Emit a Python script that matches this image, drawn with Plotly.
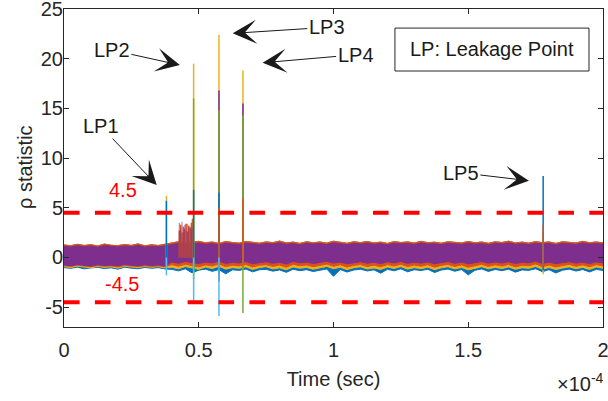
import numpy as np
import plotly.graph_objects as go

# ---------------- data (time in units of 1e-4 s) ----------------
time_e4 = np.linspace(0, 2, 81)

purple_hi = [1.12, 1.05, 1.18, 1.08, 1.15, 1.02, 1.20, 1.10, 1.06, 1.16, 1.09, 1.22, 1.04, 1.13, 1.08, 1.17,
             1.30, 1.42, 1.28, 1.38, 1.46, 1.33, 1.40, 1.27, 1.44, 1.36,
             1.31, 1.45, 1.38, 1.29, 1.41, 1.35, 1.48, 1.32, 1.39, 1.26,
             1.43, 1.34, 1.40, 1.30, 1.47, 1.37, 1.28, 1.42, 1.35, 1.45,
             1.32, 1.39, 1.27, 1.44, 1.36, 1.41, 1.30, 1.46, 1.34, 1.38,
             1.29, 1.43, 1.37, 1.31, 1.45, 1.33, 1.40, 1.28, 1.42, 1.36,
             1.47, 1.32, 1.39, 1.30, 1.44, 1.35, 1.41, 1.27, 1.43, 1.37,
             1.31, 1.46, 1.34, 1.40, 1.33]
purple_lo = [-0.75, -0.84, -0.70, -0.80, -0.88, -0.73, -0.82, -0.77, -0.86, -0.71, -0.79, -0.85, -0.74, -0.81, -0.76, -0.87,
             -0.45, -0.58, -0.40, -0.52, -0.62, -0.47, -0.55, -0.38, -0.60, -0.49,
             -0.56, -0.42, -0.63, -0.50, -0.44, -0.59, -0.48, -0.66, -0.41, -0.54,
             -0.47, -0.61, -0.52, -0.39, -0.57, -0.46, -0.64, -0.51, -0.43, -0.58,
             -0.49, -0.62, -0.44, -0.55, -0.40, -0.60, -0.48, -0.57, -0.45, -0.63,
             -0.50, -0.42, -0.59, -0.47, -0.65, -0.53, -0.41, -0.58, -0.46, -0.56,
             -0.44, -0.61, -0.49, -0.54, -0.39, -0.60, -0.47, -0.63, -0.52, -0.43,
             -0.57, -0.48, -0.62, -0.45, -0.55]
fringe_hi = [1.25, 1.18, 1.32, 1.20, 1.28, 1.15, 1.34, 1.22, 1.19, 1.30, 1.21, 1.36, 1.17, 1.27, 1.20, 1.31,
             1.45, 1.58, 1.42, 1.52, 1.62, 1.47, 1.55, 1.40, 1.60, 1.50,
             1.44, 1.61, 1.53, 1.43, 1.56, 1.49, 1.64, 1.46, 1.54, 1.41,
             1.57, 1.48, 1.55, 1.44, 1.63, 1.51, 1.42, 1.58, 1.49, 1.60,
             1.46, 1.54, 1.41, 1.59, 1.50, 1.56, 1.45, 1.62, 1.48, 1.53,
             1.43, 1.58, 1.52, 1.45, 1.61, 1.47, 1.55, 1.42, 1.57, 1.50,
             1.63, 1.46, 1.54, 1.44, 1.59, 1.49, 1.56, 1.41, 1.58, 1.51,
             1.45, 1.62, 1.48, 1.55, 1.47]
orange_lo = [-0.83, -0.90, -0.80, -0.88, -0.93, -0.82, -0.89, -0.85, -0.95, -0.81, -0.87, -0.92, -0.84, -0.90, -0.86, -0.94,
             -0.72, -0.88, -0.68, -0.82, -0.95, -0.75, -0.86, -0.66, -0.92, -0.78,
             -0.85, -0.70, -0.96, -0.79, -0.73, -0.90, -0.77, -0.99, -0.69, -0.84,
             -0.76, -0.93, -0.81, -0.67, -0.89, -0.74, -0.97, -0.80, -0.71, -0.91,
             -0.78, -0.94, -0.72, -0.86, -0.68, -0.92, -0.77, -0.88, -0.73, -0.98,
             -0.80, -0.70, -0.91, -0.75, -0.99, -0.83, -0.69, -0.90, -0.74, -0.87,
             -0.71, -0.95, -0.79, -0.84, -0.66, -0.93, -0.76, -0.96, -0.82, -0.70,
             -0.89, -0.75, -0.94, -0.72, -0.85]
yellow_lo = [-0.92, -1.02, -0.88, -0.98, -1.05, -0.90, -1.00, -0.94, -1.08, -0.89, -0.97, -1.03, -0.91, -0.99, -0.93, -1.06,
             -1.00, -1.15, -0.92, -1.08, -1.20, -0.97, -1.12, -0.90, -1.18, -1.03,
             -1.10, -0.95, -1.22, -1.02, -0.93, -1.16, -1.05, -1.25, -0.96, -1.09,
             -1.01, -1.19, -1.07, -0.91, -1.14, -0.99, -1.23, -1.04, -0.94, -1.17,
             -1.06, -1.21, -0.97, -1.11, -0.92, -1.18, -1.03, -1.13, -0.98, -1.24,
             -1.05, -0.94, -1.16, -1.01, -1.26, -1.08, -0.93, -1.15, -1.00, -1.12,
             -0.96, -1.20, -1.04, -1.10, -0.91, -1.19, -1.02, -1.22, -1.07, -0.95,
             -1.14, -1.00, -1.21, -0.97, -1.09]
blue_lo = [-1.02, -1.10, -0.98, -1.15, -1.05, -1.00, -1.12, -1.04, -1.18, -0.99, -1.08, -1.14, -1.01, -1.09, -1.03, -1.16,
           -1.20, -1.35, -1.15, -1.55, -1.28, -1.18, -1.40, -1.22, -1.65, -1.25,
           -1.30, -1.17, -1.45, -1.24, -1.20, -1.38, -1.26, -1.50, -1.19, -1.33,
           -1.23, -1.42, -1.28, -1.16, -1.90, -1.21, -1.47, -1.27, -1.18, -1.36,
           -1.25, -1.58, -1.20, -1.34, -1.15, -1.44, -1.24, -1.31, -1.19, -1.52,
           -1.27, -1.17, -1.39, -1.22, -1.75, -1.29, -1.16, -1.41, -1.21, -1.33,
           -1.19, -1.48, -1.26, -1.30, -1.14, -1.43, -1.23, -1.56, -1.28, -1.18,
           -1.37, -1.22, -1.46, -1.20, -1.31]

# leakage spikes: times (1e-4 s), peak values, trough values
yellow_spk_t = [0.380, 0.481, 0.575, 0.664, 1.778]
yellow_spk_hi = [6.2, 19.5, 22.4, 18.8, 2.6]
yellow_spk_lo = [-0.9, -1.0, -1.2, -1.1, -1.7]

purple_spk_t = [0.575, 0.664]
purple_spk_hi = [16.8, 15.5]
purple_spk_lo = [-2.4, -1.0]

green_spk_t = [0.481, 0.575, 0.664]
green_spk_hi = [16.0, 14.8, 14.3]
green_spk_lo = [-2.2, -1.0, -5.6]

blue_spk_t = [0.380, 0.481, 0.575, 1.778]
blue_spk_hi = [5.7, 6.8, 6.5, 8.2]
blue_spk_lo = [-1.2, -1.3, -1.5, -1.3]

orange_spk_t = [0.575, 0.664, 1.778]
orange_spk_hi = [5.0, 5.9, 3.3]
orange_spk_lo = [-0.8, -0.8, -0.9]

lblue_spk_t = [0.380, 0.481, 0.575]
lblue_spk_hi = [0.0, 0.0, 0.0]
lblue_spk_lo = [-1.8, -4.4, -5.9]

cluster_t = [0.428, 0.433, 0.438, 0.443, 0.448, 0.453, 0.458, 0.463, 0.468, 0.473, 0.477]
cluster_red = [2.7, 3.3, 2.5, 3.1, 2.9, 3.4, 2.6, 3.2, 3.0, 3.5, 3.9]
cluster_purple = [3.5, 2.8, 3.6, 2.6, 3.3, 2.7, 3.4, 2.9, 3.1, 2.8, 3.0]

threshold = 4.5

labels = ["LP1", "LP2", "LP3", "LP4", "LP5"]
x_ticks = [0, 0.5, 1, 1.5, 2]
x_ticktext = ["0", "0.5", "1", "1.5", "2"]
y_ticks = [-5, 0, 5, 10, 15, 20, 25]
y_ticktext = ["-5", "0", "5", "10", "15", "20", "25"]

# ---------------- styles ----------------
C_BLUE = "#0072BD"
C_ORANGE = "#D95319"
C_YELLOW = "#EDB120"
C_PURPLE = "#7E2F8E"
C_GREEN = "#77AC30"
C_LBLUE = "#4DBEEE"
FONT = "Liberation Sans, Arial, Helvetica, sans-serif"
TXT = "#262626"

fig = go.Figure()
t = list(time_e4)


def band(lo, hi, color):
    fig.add_trace(go.Scatter(
        x=t + t[::-1], y=list(hi) + list(lo)[::-1], mode="lines",
        fill="toself", fillcolor=color, line=dict(color=color, width=1),
        hoverinfo="skip", showlegend=False))


def spikes(ts, lo, hi, color, width=1.5, opacity=1.0):
    xs, ys = [], []
    for a, b, c in zip(ts, lo, hi):
        xs += [a, a, None]
        ys += [b, c, None]
    fig.add_trace(go.Scatter(x=xs, y=ys, mode="lines",
                             line=dict(color=color, width=width),
                             opacity=opacity, hoverinfo="skip", showlegend=False))


band(blue_lo, fringe_hi, C_BLUE)
band(yellow_lo, fringe_hi, C_YELLOW)
band(orange_lo, fringe_hi, C_ORANGE)
band(purple_lo, purple_hi, C_PURPLE)

spikes(cluster_t, [0] * len(cluster_t), cluster_red, C_ORANGE, width=1.6)
spikes(cluster_t, [0] * len(cluster_t), cluster_purple, C_PURPLE, width=1.2, opacity=0.55)

spikes(yellow_spk_t, yellow_spk_lo, yellow_spk_hi, C_YELLOW)
spikes(purple_spk_t, purple_spk_lo, purple_spk_hi, C_PURPLE)
spikes(green_spk_t, green_spk_lo, green_spk_hi, C_GREEN)
spikes(blue_spk_t, blue_spk_lo, blue_spk_hi, C_BLUE)
spikes(orange_spk_t, orange_spk_lo, orange_spk_hi, C_ORANGE)
spikes(lblue_spk_t, lblue_spk_lo, lblue_spk_hi, C_LBLUE)

# threshold lines
for yv in (threshold, -threshold):
    fig.add_shape(type="line", xref="paper", yref="y", x0=0, x1=1, y0=yv, y1=yv,
                  line=dict(color="#FF0000", width=4, dash="15.6px,15.3px"), layer="above")

# threshold labels
fig.add_annotation(x=0.219, y=6.78, text="4.5", showarrow=False, xanchor="center", yanchor="middle",
                   font=dict(family=FONT, size=20, color="#FF0000"))
fig.add_annotation(x=0.215, y=-2.68, text="-4.5", showarrow=False, xanchor="center", yanchor="middle",
                   font=dict(family=FONT, size=20, color="#FF0000"))

# leakage-point arrows: (tip x, tip y, text offset ax, ay)
arrow_pos = [(0.344, 7.28, -56, -59), (0.430, 19.36, -68, -15), (0.626, 22.55, 94, -6),
             (0.737, 19.59, 93, -8), (1.725, 7.72, -68, -8)]
for lab, (ax_, ay_, dx, dy) in zip(labels, arrow_pos):
    fig.add_annotation(x=ax_, y=ay_, ax=dx, ay=dy, text=lab, showarrow=True,
                       arrowhead=3, arrowsize=4, arrowwidth=1, arrowcolor="#1a1a1a",
                       font=dict(family=FONT, size=20, color="#1a1a1a"))

# legend-like box
fig.add_shape(type="rect", xref="paper", yref="paper", x0=0.614, x1=0.974, y0=0.805, y1=0.940,
              line=dict(color="#262626", width=1), fillcolor="white", layer="above")
fig.add_annotation(xref="paper", yref="paper", x=0.794, y=0.873, xanchor="center", yanchor="middle",
                   text="LP: Leakage Point", showarrow=False,
                   font=dict(family=FONT, size=20, color="#1a1a1a"))

# exponent label
fig.add_annotation(xref="paper", yref="paper", x=1.006, y=-0.176, xanchor="right", yanchor="middle",
                   text="×10<sup>-4</sup>", showarrow=False,
                   font=dict(family=FONT, size=20, color=TXT))

# y-axis title (placed as rotated text)
fig.add_annotation(xref="paper", yref="paper", x=-0.0724, y=0.503, xanchor="center", yanchor="middle",
                   text="ρ statistic", textangle=-90, showarrow=False,
                   font=dict(family=FONT, size=20, color=TXT))

fig.update_layout(
    width=608, height=401,
    margin=dict(l=64, r=5, t=9, b=74, autoexpand=False),
    paper_bgcolor="white", plot_bgcolor="white",
    font=dict(family=FONT, size=20, color=TXT),
    showlegend=False,
)
fig.update_xaxes(range=[0, 2], tickvals=x_ticks, ticktext=x_ticktext,
                 showgrid=False, zeroline=False, showline=True, linecolor=TXT, linewidth=1,
                 mirror="ticks", ticks="inside", ticklen=5, tickcolor=TXT,
                 ticklabelstandoff=5, ticklabeloverflow="allow",
                 title=dict(text="Time (sec)", standoff=11, font=dict(size=20)),
                 tickfont=dict(size=20))
fig.update_yaxes(range=[-7, 25], tickvals=y_ticks, ticktext=y_ticktext,
                 showgrid=False, zeroline=False, showline=True, linecolor=TXT, linewidth=1,
                 mirror="ticks", ticks="inside", ticklen=5, tickcolor=TXT,
                 ticklabelstandoff=-4, ticklabeloverflow="allow",
                 tickfont=dict(size=20))

fig.write_html("out.html", config={"displayModeBar": False},
               post_script="document.body.style.margin='0';")
